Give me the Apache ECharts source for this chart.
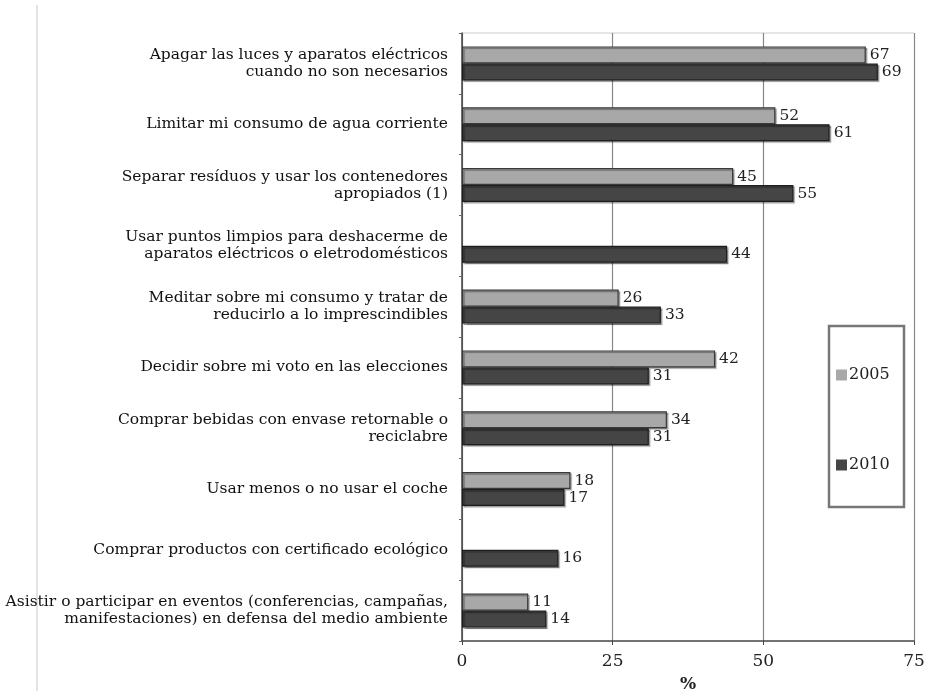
<!DOCTYPE html>
<html><head><meta charset="utf-8">
<script src="https://cdn.jsdelivr.net/npm/echarts@6/dist/echarts.min.js"></script>
<style>html,body{margin:0;padding:0;background:#fff}#c{width:929px;height:691px}</style>
</head><body><div id="c"></div>
<script>
const categories = [
  "Apagar las luces y aparatos eléctricos\ncuando no son necesarios",
  "Limitar mi consumo de agua corriente",
  "Separar resíduos y usar los contenedores\napropiados (1)",
  "Usar puntos limpios para deshacerme de\naparatos eléctricos o eletrodomésticos",
  "Meditar sobre mi consumo y tratar de\nreducirlo a lo imprescindibles",
  "Decidir sobre mi voto en las elecciones",
  "Comprar bebidas con envase retornable o\nreciclabre",
  "Usar menos o no usar el coche",
  "Comprar productos con certificado ecológico",
  "Asistir o participar en eventos (conferencias, campañas,\nmanifestaciones) en defensa del medio ambiente"
];
const values2005 = [67, 52, 45, null, 26, 42, 34, 18, null, 11];
const values2010 = [69, 61, 55, 44, 33, 31, 31, 17, 16, 14];
const xTicks = [0, 25, 50, 75];

const FONT = "DejaVu Serif";
const chart = echarts.init(document.getElementById('c'));
const labelStyle = {show: true, position: 'right', distance: 4, color: '#222', fontFamily: FONT, fontSize: 15.5};
chart.setOption({
  animation: false,
  textStyle: {fontFamily: FONT},
  grid: {left: 462, right: 15, top: 33, bottom: 50, containLabel: false, outerBoundsMode: 'none'},
  legend: {
    orient: 'vertical', left: 831, top: 362, itemGap: 74,
    itemWidth: 11, itemHeight: 11, icon: 'rect',
    itemStyle: {borderWidth: 0, shadowBlur: 0, shadowOffsetX: 0, shadowOffsetY: 0},
    textStyle: {fontFamily: FONT, fontSize: 16, color: '#222', padding: [0, 0, 0, -3]},
    data: ['2005', '2010']
  },
  xAxis: {
    type: 'value', min: 0, max: 75, interval: 25,
    name: '%', nameLocation: 'middle', nameGap: 35,
    nameTextStyle: {fontFamily: FONT, fontSize: 17, fontWeight: 'bold', color: '#222'},
    axisLine: {show: true, lineStyle: {color: '#444', width: 1.5}},
    axisTick: {show: true, length: 4, lineStyle: {color: '#444'}},
    axisLabel: {fontFamily: FONT, fontSize: 17, color: '#222', margin: 12,
      formatter: v => xTicks.includes(v) ? String(v) : ''},
    splitLine: {show: true, lineStyle: {color: '#888', width: 1.2}}
  },
  yAxis: {
    type: 'category', data: categories, inverse: true,
    axisLine: {show: true, lineStyle: {color: '#444', width: 1.5}},
    axisTick: {show: true, length: 3, lineStyle: {color: '#666'}},
    axisLabel: {fontFamily: FONT, fontSize: 15.5, color: '#111', margin: 14, align: 'right', lineHeight: 17}
  },
  series: [
    {name: '2005', type: 'bar', data: values2005, barGap: '0%', barCategoryGap: '44%',
     itemStyle: {color: '#a8a8a8', borderColor: '#3a3a3a', borderWidth: 1.2,
       shadowColor: 'rgba(0,0,0,0.35)', shadowOffsetX: 1.5, shadowOffsetY: 1.5, shadowBlur: 1},
     label: labelStyle},
    {name: '2010', type: 'bar', data: values2010,
     itemStyle: {color: '#454545', borderColor: '#1e1e1e', borderWidth: 1.2,
       shadowColor: 'rgba(0,0,0,0.35)', shadowOffsetX: 1.5, shadowOffsetY: 1.5, shadowBlur: 1},
     label: labelStyle}
  ],
  graphic: [
    {type: 'rect', shape: {x: 829, y: 326, width: 75, height: 181},
     style: {fill: 'none', stroke: '#777', lineWidth: 2.5}, z: 100},
    {type: 'line', shape: {x1: 37, y1: 5, x2: 37, y2: 691},
     style: {stroke: '#e4e4e4', lineWidth: 2}},
    {type: 'line', shape: {x1: 462, y1: 33, x2: 914, y2: 33},
     style: {stroke: '#ccc', lineWidth: 1}}
  ]
});
</script></body></html>
